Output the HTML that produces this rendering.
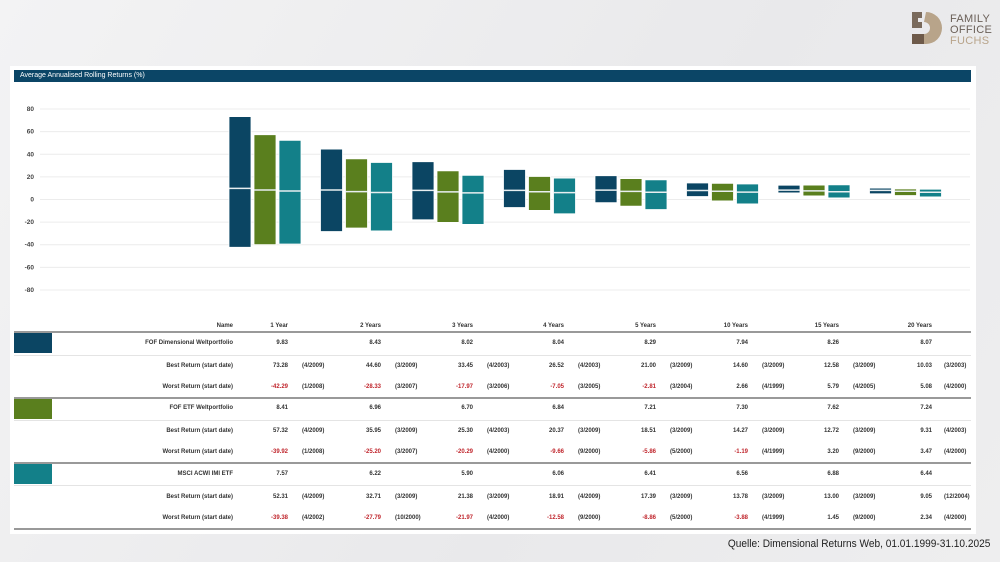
<!DOCTYPE html>
<html><head><meta charset="utf-8"><style>
body{margin:0;width:1000px;height:562px;overflow:hidden;background:linear-gradient(120deg,#f3f3f4,#e9e9eb 60%,#eeeeef);font-family:"Liberation Sans",sans-serif;position:relative}
.panel{position:absolute;left:10px;top:66px;width:966px;height:468px;background:#fff}
.bar{position:absolute;left:14px;top:70px;width:957px;height:12px;background:#0b4566;color:#fff;font-size:7px;line-height:12px;padding-left:6px;box-sizing:border-box}
.row{position:absolute;left:0;width:1000px;height:10px;font-size:6px;line-height:10px;color:#333;font-weight:bold}
.row span{position:absolute;white-space:nowrap}
.n{left:100px;width:133px;text-align:right}
.v1,.v2,.v3,.v4,.v5,.v6,.v7,.v8{width:40px;text-align:right}
.v1{left:248px}.v2{left:341px}.v3{left:433px}.v4{left:524px}.v5{left:616px}.v6{left:708px}.v7{left:799px}.v8{left:892px}
.d1{left:302px}.d2{left:395px}.d3{left:487px}.d4{left:578px}.d5{left:670px}.d6{left:762px}.d7{left:853px}.d8{left:944px}
.r{color:#c0262d}
.hl{position:absolute;left:14px;width:957px;height:1px;background:#e4e4e4}
.hk{position:absolute;left:14px;width:957px;height:2px;background:#999}
.sw{position:absolute;left:14px;width:38px;height:20px}
.src{position:absolute;right:10px;top:538px;font-size:11px;color:#222;transform:scaleX(0.92);transform-origin:right}
</style></head><body>
<div class="panel"></div>
<div class="bar">Average Annualised Rolling Returns (%)</div>
<svg style="position:absolute;left:0;top:0" width="1000" height="562">
<g stroke="#ececec" stroke-width="1">
<line x1="40" x2="970" y1="109" y2="109"/><line x1="40" x2="970" y1="131.6" y2="131.6"/><line x1="40" x2="970" y1="154.3" y2="154.3"/><line x1="40" x2="970" y1="176.9" y2="176.9"/><line x1="40" x2="970" y1="199.5" y2="199.5"/><line x1="40" x2="970" y1="222.1" y2="222.1"/><line x1="40" x2="970" y1="244.7" y2="244.7"/><line x1="40" x2="970" y1="267.4" y2="267.4"/><line x1="40" x2="970" y1="290" y2="290"/>
</g>
<g font-size="6.5" fill="#444" font-family="Liberation Sans" text-anchor="end" font-weight="bold">
<text x="34" y="111">80</text><text x="34" y="133.6">60</text><text x="34" y="156.3">40</text><text x="34" y="178.9">20</text><text x="34" y="201.5">0</text><text x="34" y="224.1">-20</text><text x="34" y="246.7">-40</text><text x="34" y="269.4">-60</text><text x="34" y="292">-80</text>
</g>
<g transform="translate(0,199.5) scale(1,-1.131)" stroke="#fff" stroke-width="0.8">
<g fill="#0b4563">
<rect vector-effect="non-scaling-stroke" x="229" width="22" y="-42.29" height="115.57"/>
<rect vector-effect="non-scaling-stroke" x="320.5" width="22" y="-28.33" height="72.93"/>
<rect vector-effect="non-scaling-stroke" x="412" width="22" y="-17.97" height="51.42"/>
<rect vector-effect="non-scaling-stroke" x="503.5" width="22" y="-7.05" height="33.57"/>
<rect vector-effect="non-scaling-stroke" x="595" width="22" y="-2.81" height="23.81"/>
<rect vector-effect="non-scaling-stroke" x="686.5" width="22" y="2.66" height="11.94"/>
<rect vector-effect="non-scaling-stroke" x="778" width="22" y="5.79" height="6.79"/>
<rect vector-effect="non-scaling-stroke" x="869.5" width="22" y="5.08" height="4.95"/>
</g>
<g fill="#5a7f1e">
<rect vector-effect="non-scaling-stroke" x="254" width="22" y="-39.92" height="97.24"/>
<rect vector-effect="non-scaling-stroke" x="345.5" width="22" y="-25.2" height="61.15"/>
<rect vector-effect="non-scaling-stroke" x="437" width="22" y="-20.29" height="45.59"/>
<rect vector-effect="non-scaling-stroke" x="528.5" width="22" y="-9.66" height="30.03"/>
<rect vector-effect="non-scaling-stroke" x="620" width="22" y="-5.86" height="24.37"/>
<rect vector-effect="non-scaling-stroke" x="711.5" width="22" y="-1.19" height="15.46"/>
<rect vector-effect="non-scaling-stroke" x="803" width="22" y="3.2" height="9.52"/>
<rect vector-effect="non-scaling-stroke" x="894.5" width="22" y="3.47" height="5.84"/>
</g>
<g fill="#138089">
<rect vector-effect="non-scaling-stroke" x="279" width="22" y="-39.38" height="91.69"/>
<rect vector-effect="non-scaling-stroke" x="370.5" width="22" y="-27.79" height="60.5"/>
<rect vector-effect="non-scaling-stroke" x="462" width="22" y="-21.97" height="43.35"/>
<rect vector-effect="non-scaling-stroke" x="553.5" width="22" y="-12.58" height="31.49"/>
<rect vector-effect="non-scaling-stroke" x="645" width="22" y="-8.86" height="26.25"/>
<rect vector-effect="non-scaling-stroke" x="736.5" width="22" y="-3.88" height="17.66"/>
<rect vector-effect="non-scaling-stroke" x="828" width="22" y="1.45" height="11.55"/>
<rect vector-effect="non-scaling-stroke" x="919.5" width="22" y="2.34" height="6.71"/>
</g>
<g stroke="#e8eef0" stroke-width="1.5">
<line vector-effect="non-scaling-stroke" x1="229" x2="251" y1="9.83" y2="9.83"/><line vector-effect="non-scaling-stroke" x1="320.5" x2="342.5" y1="8.43" y2="8.43"/><line vector-effect="non-scaling-stroke" x1="412" x2="434" y1="8.02" y2="8.02"/><line vector-effect="non-scaling-stroke" x1="503.5" x2="525.5" y1="8.04" y2="8.04"/><line vector-effect="non-scaling-stroke" x1="595" x2="617" y1="8.29" y2="8.29"/><line vector-effect="non-scaling-stroke" x1="686.5" x2="708.5" y1="7.94" y2="7.94"/><line vector-effect="non-scaling-stroke" x1="778" x2="800" y1="8.26" y2="8.26"/><line vector-effect="non-scaling-stroke" x1="869.5" x2="891.5" y1="8.07" y2="8.07"/>
<line vector-effect="non-scaling-stroke" x1="254" x2="276" y1="8.41" y2="8.41"/><line vector-effect="non-scaling-stroke" x1="345.5" x2="367.5" y1="6.96" y2="6.96"/><line vector-effect="non-scaling-stroke" x1="437" x2="459" y1="6.7" y2="6.7"/><line vector-effect="non-scaling-stroke" x1="528.5" x2="550.5" y1="6.84" y2="6.84"/><line vector-effect="non-scaling-stroke" x1="620" x2="642" y1="7.21" y2="7.21"/><line vector-effect="non-scaling-stroke" x1="711.5" x2="733.5" y1="7.3" y2="7.3"/><line vector-effect="non-scaling-stroke" x1="803" x2="825" y1="7.62" y2="7.62"/><line vector-effect="non-scaling-stroke" x1="894.5" x2="916.5" y1="7.24" y2="7.24"/>
<line vector-effect="non-scaling-stroke" x1="279" x2="301" y1="7.57" y2="7.57"/><line vector-effect="non-scaling-stroke" x1="370.5" x2="392.5" y1="6.22" y2="6.22"/><line vector-effect="non-scaling-stroke" x1="462" x2="484" y1="5.9" y2="5.9"/><line vector-effect="non-scaling-stroke" x1="553.5" x2="575.5" y1="6.06" y2="6.06"/><line vector-effect="non-scaling-stroke" x1="645" x2="667" y1="6.41" y2="6.41"/><line vector-effect="non-scaling-stroke" x1="736.5" x2="758.5" y1="6.56" y2="6.56"/><line vector-effect="non-scaling-stroke" x1="828" x2="850" y1="6.88" y2="6.88"/><line vector-effect="non-scaling-stroke" x1="919.5" x2="941.5" y1="6.44" y2="6.44"/>
</g>
</g>
<!-- logo -->
<g transform="translate(912,12)">
<path d="M0,0 h10 v6 h-4 v4 h4 v6 h-10 z" fill="#7a6a5c"/>
<path d="M14,0 a16,16 0 0 1 0,32 h-14 v-10 h12 a6,6 0 0 0 0,-12 z" fill="#b8a48a"/>
<path d="M0,22 h12 v10 h-12 z" fill="#6e5a4a"/>
</g>
<g font-family="Liberation Sans" font-size="11" letter-spacing="0.3">
<text x="950" y="22" fill="#6a5f57">FAMILY</text><text x="950" y="33" fill="#6a5f57">OFFICE</text><text x="950" y="44" fill="#b8a48a">FUCHS</text>
</g>
</svg>

<div class="hk" style="top:331px"></div>
<div class="hl" style="top:355px"></div>
<div class="hk" style="top:397px"></div>
<div class="hl" style="top:420px"></div>
<div class="hk" style="top:462px"></div>
<div class="hl" style="top:485px"></div>
<div class="hk" style="top:528px"></div>
<div class="sw" style="top:333px;background:#0b4563"></div>
<div class="sw" style="top:399px;background:#5a7f1e"></div>
<div class="sw" style="top:464px;background:#138089"></div>

<div class="row" style="top:321px"><span class="n">Name</span><span class="v1">1 Year</span><span class="v2">2 Years</span><span class="v3">3 Years</span><span class="v4">4 Years</span><span class="v5">5 Years</span><span class="v6">10 Years</span><span class="v7">15 Years</span><span class="v8">20 Years</span></div>
<div class="row" style="top:338px"><span class="n">FOF Dimensional Weltportfolio</span><span class="v1">9.83</span><span class="v2">8.43</span><span class="v3">8.02</span><span class="v4">8.04</span><span class="v5">8.29</span><span class="v6">7.94</span><span class="v7">8.26</span><span class="v8">8.07</span></div>
<div class="row" style="top:361px"><span class="n">Best Return (start date)</span><span class="v1">73.28</span><span class="d1">(4/2009)</span><span class="v2">44.60</span><span class="d2">(3/2009)</span><span class="v3">33.45</span><span class="d3">(4/2003)</span><span class="v4">26.52</span><span class="d4">(4/2003)</span><span class="v5">21.00</span><span class="d5">(3/2009)</span><span class="v6">14.60</span><span class="d6">(3/2009)</span><span class="v7">12.58</span><span class="d7">(3/2009)</span><span class="v8">10.03</span><span class="d8">(3/2003)</span></div>
<div class="row" style="top:382px"><span class="n">Worst Return (start date)</span><span class="v1 r">-42.29</span><span class="d1">(1/2008)</span><span class="v2 r">-28.33</span><span class="d2">(3/2007)</span><span class="v3 r">-17.97</span><span class="d3">(3/2006)</span><span class="v4 r">-7.05</span><span class="d4">(3/2005)</span><span class="v5 r">-2.81</span><span class="d5">(3/2004)</span><span class="v6">2.66</span><span class="d6">(4/1999)</span><span class="v7">5.79</span><span class="d7">(4/2005)</span><span class="v8">5.08</span><span class="d8">(4/2000)</span></div>
<div class="row" style="top:403px"><span class="n">FOF ETF Weltportfolio</span><span class="v1">8.41</span><span class="v2">6.96</span><span class="v3">6.70</span><span class="v4">6.84</span><span class="v5">7.21</span><span class="v6">7.30</span><span class="v7">7.62</span><span class="v8">7.24</span></div>
<div class="row" style="top:426px"><span class="n">Best Return (start date)</span><span class="v1">57.32</span><span class="d1">(4/2009)</span><span class="v2">35.95</span><span class="d2">(3/2009)</span><span class="v3">25.30</span><span class="d3">(4/2003)</span><span class="v4">20.37</span><span class="d4">(3/2009)</span><span class="v5">18.51</span><span class="d5">(3/2009)</span><span class="v6">14.27</span><span class="d6">(3/2009)</span><span class="v7">12.72</span><span class="d7">(3/2009)</span><span class="v8">9.31</span><span class="d8">(4/2003)</span></div>
<div class="row" style="top:447px"><span class="n">Worst Return (start date)</span><span class="v1 r">-39.92</span><span class="d1">(1/2008)</span><span class="v2 r">-25.20</span><span class="d2">(3/2007)</span><span class="v3 r">-20.29</span><span class="d3">(4/2000)</span><span class="v4 r">-9.66</span><span class="d4">(9/2000)</span><span class="v5 r">-5.86</span><span class="d5">(5/2000)</span><span class="v6 r">-1.19</span><span class="d6">(4/1999)</span><span class="v7">3.20</span><span class="d7">(9/2000)</span><span class="v8">3.47</span><span class="d8">(4/2000)</span></div>
<div class="row" style="top:469px"><span class="n">MSCI ACWI IMI ETF</span><span class="v1">7.57</span><span class="v2">6.22</span><span class="v3">5.90</span><span class="v4">6.06</span><span class="v5">6.41</span><span class="v6">6.56</span><span class="v7">6.88</span><span class="v8">6.44</span></div>
<div class="row" style="top:492px"><span class="n">Best Return (start date)</span><span class="v1">52.31</span><span class="d1">(4/2009)</span><span class="v2">32.71</span><span class="d2">(3/2009)</span><span class="v3">21.38</span><span class="d3">(3/2009)</span><span class="v4">18.91</span><span class="d4">(4/2009)</span><span class="v5">17.39</span><span class="d5">(3/2009)</span><span class="v6">13.78</span><span class="d6">(3/2009)</span><span class="v7">13.00</span><span class="d7">(3/2009)</span><span class="v8">9.05</span><span class="d8">(12/2004)</span></div>
<div class="row" style="top:513px"><span class="n">Worst Return (start date)</span><span class="v1 r">-39.38</span><span class="d1">(4/2002)</span><span class="v2 r">-27.79</span><span class="d2">(10/2000)</span><span class="v3 r">-21.97</span><span class="d3">(4/2000)</span><span class="v4 r">-12.58</span><span class="d4">(9/2000)</span><span class="v5 r">-8.86</span><span class="d5">(5/2000)</span><span class="v6 r">-3.88</span><span class="d6">(4/1999)</span><span class="v7">1.45</span><span class="d7">(9/2000)</span><span class="v8">2.34</span><span class="d8">(4/2000)</span></div>

<div class="src">Quelle: Dimensional Returns Web, 01.01.1999-31.10.2025</div>
</body></html>
